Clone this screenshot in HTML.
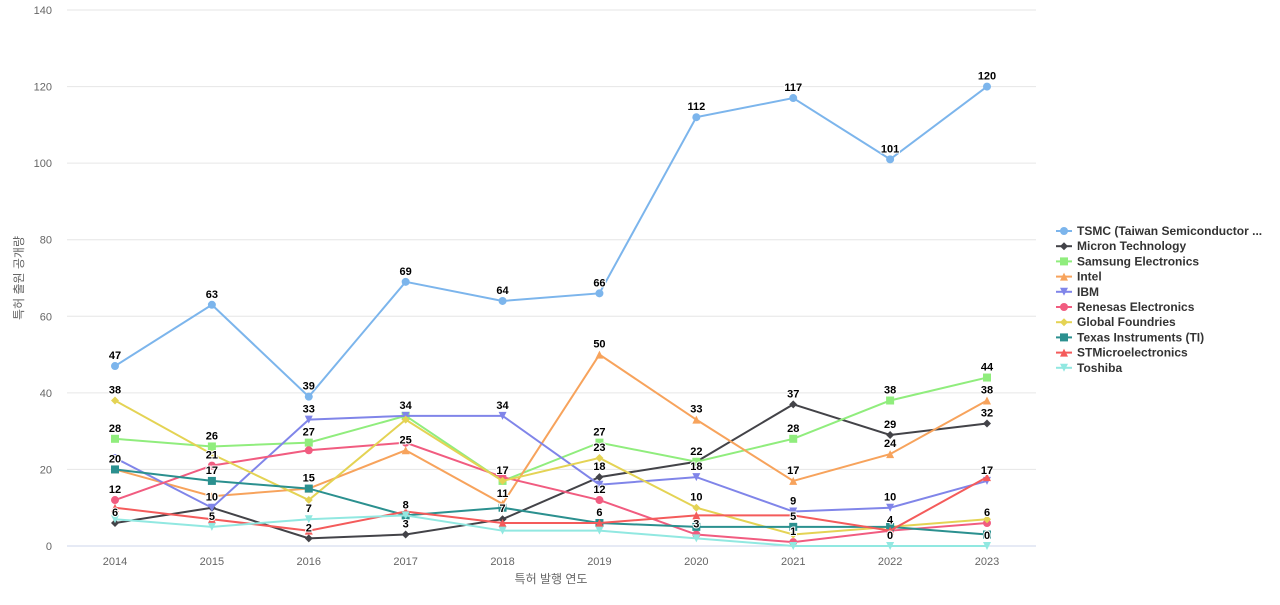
<!DOCTYPE html>
<html><head><meta charset="utf-8"><style>
body{margin:0;background:#fff;font-family:"Liberation Sans","Noto Sans CJK KR",sans-serif}
svg text{font-family:"Liberation Sans","Noto Sans CJK KR",sans-serif}
</style></head><body>
<svg id="c" width="1280" height="600"></svg>
<script>
const years=[2014,2015,2016,2017,2018,2019,2020,2021,2022,2023];
const names=["TSMC (Taiwan Semiconductor ...","Micron Technology","Samsung Electronics","Intel","IBM","Renesas Electronics","Global Foundries","Texas Instruments (TI)","STMicroelectronics","Toshiba"];
const tsmc=[47,63,39,69,64,66,112,117,101,120];
const micron=[6,10,2,3,7,18,22,37,29,32];
const samsung=[28,26,27,34,17,27,22,28,38,44];
const intel=[20,13,15,25,11,50,33,17,24,38];
const ibm=[23,10,33,34,34,16,18,9,10,17];
const renesas=[12,21,25,27,18,12,3,1,4,6];
const gf=[38,24,12,33,17,23,10,3,5,7];
const ti=[20,17,15,8,10,6,5,5,5,3];
const st=[10,7,4,9,6,6,8,8,4,18];
const toshiba=[7,5,7,8,4,4,2,0,0,0];
const yTicks=[0,20,40,60,80,100,120,140];
const series=[tsmc,micron,samsung,intel,ibm,renesas,gf,ti,st,toshiba];
const colors=["#7cb5ec","#434348","#90ed7d","#f7a35c","#8085e9","#f15c80","#e4d354","#2b908f","#f45b5b","#91e8e1"];
const shapes=["circle","diamond","square","triangle","tdown","circle","diamond","square","triangle","tdown"];
const NS="http://www.w3.org/2000/svg";
const svg=document.getElementById('c');
const x=i=>115+i*(987-115)/9;
const y=v=>546-v*(536/140);
function el(t,a,p){const e=document.createElementNS(NS,t);for(const k in a)e.setAttribute(k,a[k]);(p||svg).appendChild(e);return e;}
yTicks.forEach(t=>{
 const g=el('line',{x1:67,x2:1036,y1:y(t),y2:y(t),stroke:t?'#e6e6e6':'#ccd6eb'});
 
 
 const l=el('text',{x:52,y:y(t)+4,'text-anchor':'end','font-size':11,fill:'#666'});l.textContent=t;
 
 
});
years.forEach((yr,i)=>{
 const l=el('text',{x:x(i),y:565,'text-anchor':'middle','font-size':11,fill:'#666'});l.textContent=yr;
 
 
});
const xt=el('text',{x:551,y:583,'text-anchor':'middle','font-size':12,fill:'#666'});xt.textContent='특허 발행 연도';


const yt=el('text',{x:0,y:0,'text-anchor':'middle','font-size':12,fill:'#666',transform:'translate(23,278) rotate(-90)'});yt.textContent='특허 출원 공개량';


function marker(s,cx,cy,c,p){
 let e;
 if(s==='circle')e=el('circle',{cx,cy,r:4,fill:c},p);
 else if(s==='square')e=el('rect',{x:cx-4,y:cy-4,width:8,height:8,fill:c},p);
 else if(s==='diamond')e=el('path',{d:`M${cx} ${cy-4}L${cx+4} ${cy}L${cx} ${cy+4}L${cx-4} ${cy}Z`,fill:c},p);
 else if(s==='triangle')e=el('path',{d:`M${cx} ${cy-4}L${cx+4} ${cy+4}L${cx-4} ${cy+4}Z`,fill:c},p);
 else e=el('path',{d:`M${cx-4} ${cy-4}L${cx+4} ${cy-4}L${cx} ${cy+4}Z`,fill:c},p);
 return e;
}
series.forEach((d,si)=>{
 const g=el('g',{});
 
 
 el('polyline',{points:d.map((v,i)=>x(i)+','+y(v)).join(' '),fill:'none',stroke:colors[si],'stroke-width':2},g);
 d.forEach((v,i)=>{
  const m=marker(shapes[si],x(i),y(v),colors[si],g);
  
  
 });
});
const placed=[];
series.forEach((d,si)=>{
 d.forEach((v,i)=>{
  const cx=x(i),by=y(v)-7;
  const w=String(v).length*7+2;
  const box={l:cx-w/2,r:cx+w/2,t:by-11,b:by+1};
  if(placed.some(p=>p.i===i&&box.l<p.r&&box.r>p.l&&box.t<p.b&&box.b>p.t))return;
  placed.push(Object.assign({i},box));
  const t=el('text',{x:cx,y:by,'text-anchor':'middle','font-size':11,'font-weight':'bold',fill:'#000',stroke:'#fff','stroke-width':2,'paint-order':'stroke'});
  t.textContent=v;
  
  
 });
});
names.forEach((n,si)=>{
 const g=el('g',{});
 
 
 const ly=231+si*15.2;
 el('line',{x1:1056,x2:1072,y1:ly,y2:ly,stroke:colors[si],'stroke-width':2},g);
 marker(shapes[si],1064,ly,colors[si],g);
 const t=el('text',{x:1077,y:ly+4,'font-size':12,'font-weight':'bold',fill:'#333'},g);t.textContent=n;
});
</script>
</body></html>
